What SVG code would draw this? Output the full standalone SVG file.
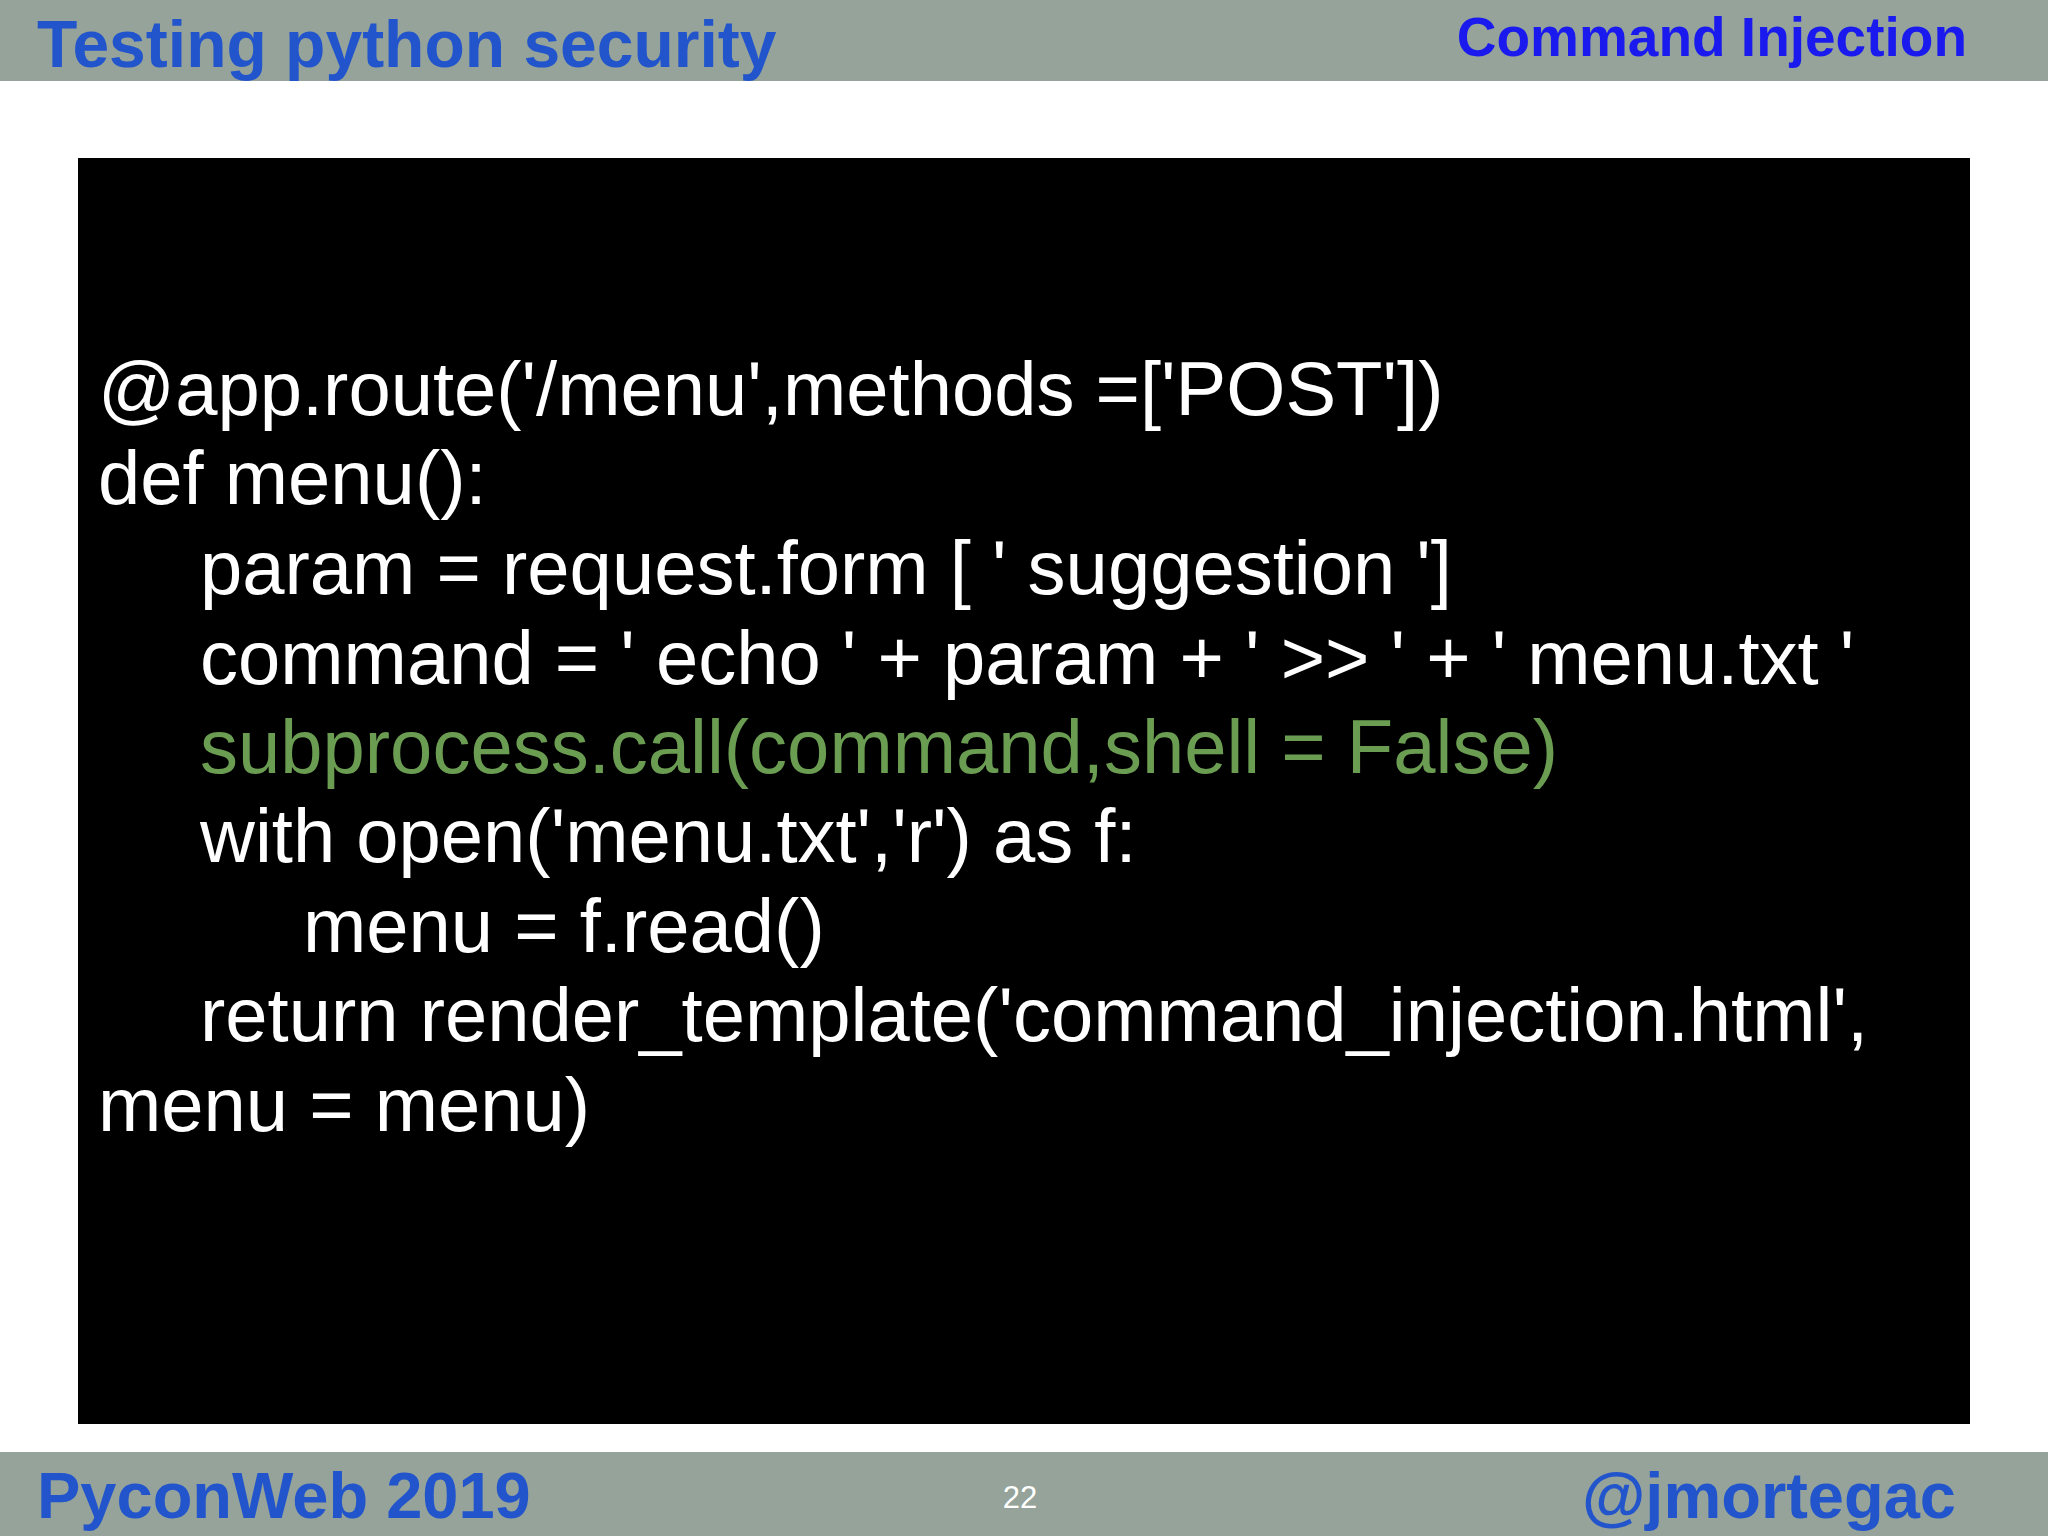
<svg xmlns="http://www.w3.org/2000/svg" width="2048" height="1536" viewBox="0 0 2048 1536">
<style>
.bar{fill:#95a39a}
.h{font-family:"Liberation Sans",Arial,sans-serif;font-weight:bold}
.c{font-family:"Liberation Sans",Arial,sans-serif;font-size:76px;fill:#ffffff}
.g{fill:#6a9c52}
</style>
<rect width="2048" height="1536" fill="#ffffff"/>
<g id="header">
<rect class="bar" x="0" y="0" width="2048" height="81"/>
<text class="h" x="37" y="67" font-size="66" fill="#2255cc">Testing python security</text>
<text class="h" x="1967" y="56" font-size="55" fill="#1a1aee" text-anchor="end">Command Injection</text>
</g>
<g id="code">
<rect x="78" y="158" width="1892" height="1266" fill="#000000"/>
<text class="c" x="98" y="415">@app.route('/menu',methods =['POST'])</text>
<text class="c" x="98" y="504">def menu():</text>
<text class="c" x="200" y="594">param = request.form [ ' suggestion ']</text>
<text class="c" x="200" y="684">command = ' echo ' + param + ' &gt;&gt; ' + ' menu.txt '</text>
<text class="c g" x="200" y="773">subprocess.call(command,shell = False)</text>
<text class="c" x="200" y="862">with open('menu.txt','r') as f:</text>
<text class="c" x="303" y="952">menu = f.read()</text>
<text class="c" x="200" y="1041">return render_template('command_injection.html',</text>
<text class="c" x="98" y="1131">menu = menu)</text>
</g>
<g id="footer">
<rect class="bar" x="0" y="1452" width="2048" height="84"/>
<text class="h" x="37" y="1518" font-size="65" fill="#2255cc">PyconWeb 2019</text>
<text x="1020" y="1508" font-size="31" fill="#ffffff" text-anchor="middle" font-family="Liberation Sans,Arial,sans-serif">22</text>
<text class="h" x="1956" y="1518" font-size="65" fill="#2255cc" text-anchor="end">@jmortegac</text>
</g>
</svg>
